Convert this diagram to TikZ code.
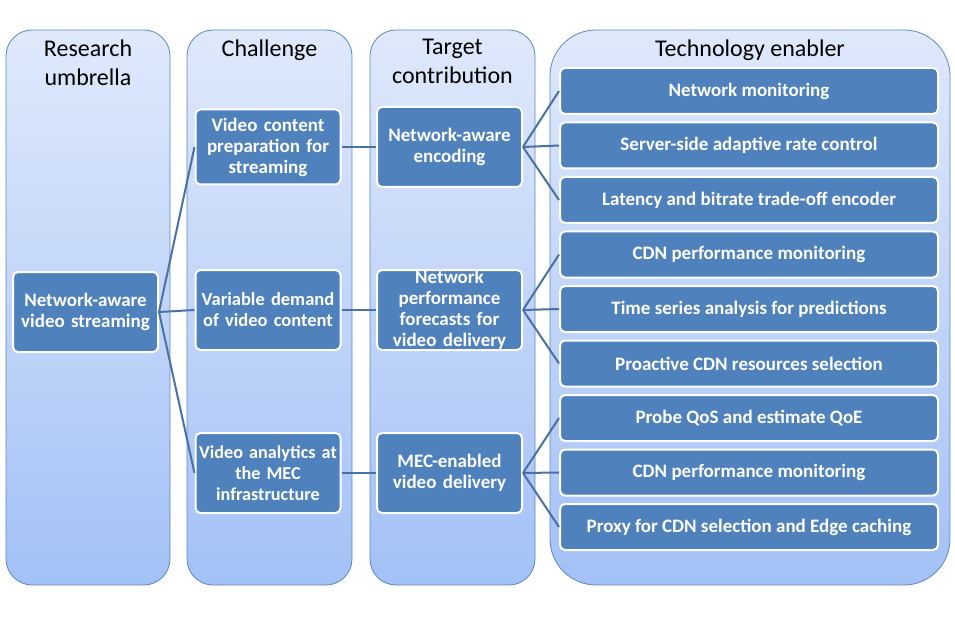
\documentclass[tikz,border=0pt]{standalone}
\usepackage{fontspec}
\setmainfont{Carlito}
\usetikzlibrary{positioning}

\definecolor{boxblue}{HTML}{4F81BD}
\definecolor{linkblue}{HTML}{4A71A6}
\definecolor{laneedge}{HTML}{5C86C0}
\definecolor{lanetop}{HTML}{DFE9FB}
\definecolor{lanebot}{HTML}{A3C1F6}

\begin{document}
\begin{tikzpicture}[
						x=1pt, y=-1pt,
						lane/.style = {draw=laneedge, line width=0.8pt, top color=lanetop, bottom color=lanebot, rounded corners=26pt},
						head/.style = {font=\fontsize{24}{29}\selectfont, align=center, anchor=north},
						item/.style = {draw=white, line width=2pt, fill=boxblue, rounded corners=5pt, text=white, font=\bfseries\fontsize{19}{21}\selectfont, align=center, inner sep=2pt},
						leftbox/.style = {item, text width=145pt, inner xsep=0pt, minimum height=80pt},
						rightbox/.style = {item, minimum width=378pt, minimum height=46pt},
						link/.style = {draw=linkblue, line width=2pt}
					]
\useasboundingbox (0,0) rectangle (955,620);

% columns
\draw[lane] (6,30) rectangle (170,585);
\draw[lane] (187,30) rectangle (352,585);
\draw[lane] (370,30) rectangle (535,585);
\draw[lane, rounded corners=46pt] (550,30) rectangle (950,585);

\node[head] (h1) at (88,36) {Research\\umbrella};
\node[head] (h2) at (269.5,36) {Challenge};
\node[head] (h3) at (452.5,36) {Target\\contribution};
\node[head] (h4) at (750,36) {Technology enabler};

% boxes
\node[leftbox] (res) at (85.5,312) {Network-aware\\video streaming};

\node[leftbox, minimum height=75pt] (ch1) at (268,147) {Video content\\preparation for\\streaming};
\node[leftbox, font=\bfseries\fontsize{18.5}{21}\selectfont] (ch2) at (268,310) {Variable demand\\of video content};
\node[leftbox, font=\bfseries\fontsize{18.2}{21}\selectfont] (ch3) at (268,473) {Video analytics at\\the MEC\\infrastructure};

\node[leftbox] (tc1) at (449.5,147) {Network-aware\\encoding};
\node[leftbox, inner ysep=0pt] (tc2) at (449.5,310) {Network\\performance\\forecasts for\\video delivery};
\node[leftbox] (tc3) at (449.5,473) {MEC-enabled\\video delivery};

\node[rightbox] (te1) at (749,91) {Network monitoring};
\node[rightbox] (te2) [below=6.5pt of te1] {Server-side adaptive rate control};
\node[rightbox] (te3) [below=6.5pt of te2] {Latency and bitrate trade-off encoder};
\node[rightbox] (te4) [below=6.5pt of te3] {CDN performance monitoring};
\node[rightbox] (te5) [below=6.5pt of te4] {Time series analysis for predictions};
\node[rightbox] (te6) [below=6.5pt of te5] {Proactive CDN resources selection};
\node[rightbox] (te7) [below=6.5pt of te6] {Probe QoS and estimate QoE};
\node[rightbox] (te8) [below=6.5pt of te7] {CDN performance monitoring};
\node[rightbox] (te9) [below=6.5pt of te8] {Proxy for CDN selection and Edge caching};

% links
\draw[link] (res.east) -- (ch1.west);
\draw[link] (res.east) -- (ch2.west);
\draw[link] (res.east) -- (ch3.west);
\draw[link] (ch1.east) -- (tc1.west);
\draw[link] (ch2.east) -- (tc2.west);
\draw[link] (ch3.east) -- (tc3.west);
\draw[link] (tc1.east) -- (te1.west);
\draw[link] (tc1.east) -- (te2.west);
\draw[link] (tc1.east) -- (te3.west);
\draw[link] (tc2.east) -- (te4.west);
\draw[link] (tc2.east) -- (te5.west);
\draw[link] (tc2.east) -- (te6.west);
\draw[link] (tc3.east) -- (te7.west);
\draw[link] (tc3.east) -- (te8.west);
\draw[link] (tc3.east) -- (te9.west);
\end{tikzpicture}
\end{document}
